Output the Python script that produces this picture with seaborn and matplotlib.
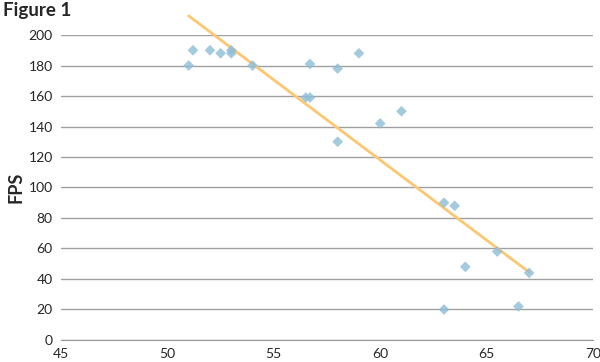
import matplotlib
matplotlib.use("Agg")
import matplotlib.pyplot as plt
import seaborn as sns
import numpy as np
import pandas as pd

temp = [51, 51.2, 52, 52.5, 53, 53, 54, 56.5, 56.7, 56.7, 58, 59, 58, 60, 61,
        63, 63.5, 64, 65.5, 67, 66.5, 63]
fps = [180, 190, 190, 188, 190, 188, 180, 159, 159, 181, 178, 188, 130, 142, 150,
       90, 88, 48, 58, 44, 22, 20]
xticks = [45, 50, 55, 60, 65, 70]
yticks = [0, 20, 40, 60, 80, 100, 120, 140, 160, 180, 200]

df = pd.DataFrame({"x": temp, "y": fps})

sns.set_style("white")
plt.rcParams['font.family'] = ['Lato', 'DejaVu Sans']

fig = plt.figure(figsize=(6, 3.62), dpi=100)
ax = fig.add_axes([0.1017, 0.0608, 0.8866, 0.8425])

sns.regplot(data=df, x="x", y="y", ax=ax, ci=None, truncate=True, marker="D",
            scatter_kws=dict(s=30, color="#8dbdd6", edgecolor="none", zorder=3),
            line_kws=dict(color="#fdc672", lw=2, clip_on=False, zorder=2))

ax.set_xlim(45, 70)
ax.set_ylim(0, 200)
ax.set_xticks(xticks)
ax.set_yticks(yticks)
ax.yaxis.grid(True, color="#a0a0a0", lw=1)
ax.set_axisbelow(True)
for s in ["left", "right", "top"]:
    ax.spines[s].set_visible(False)
ax.spines["bottom"].set_color("#999999")
ax.tick_params(axis="x", length=4, color="#999999", direction="out", labelsize=10, pad=2)
ax.tick_params(axis="y", length=0, labelsize=10, pad=6)
ax.set_xlabel("")
ax.set_ylabel("")
fig.text(16 / 600, 1 - 187 / 362, "FPS", fontsize=13, fontweight="bold",
         rotation=90, va="center", ha="center")
fig.text(0.005, 0.995, "Figure 1", fontsize=13.5, fontweight="bold", va="top", ha="left")

fig.savefig("out.png", dpi=100)
